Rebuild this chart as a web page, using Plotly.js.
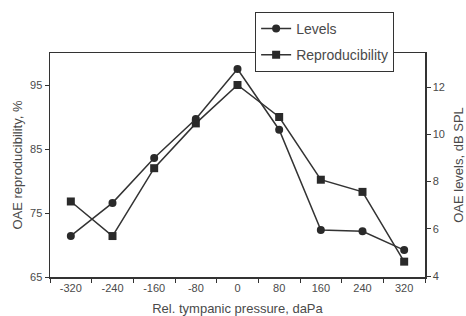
<!DOCTYPE html>
<html>
<head>
<meta charset="utf-8">
<script src="https://cdn.plot.ly/plotly-3.0.1.min.js"></script>
<style>html,body{margin:0;padding:0;background:#fff;}#chart{width:466px;height:316px;}</style>
</head>
<body>
<div id="chart"></div>
<script>
// Data
const pressure = [-320, -240, -160, -80, 0, 80, 160, 240, 320];
const levelsDb = [5.7, 7.1, 9.0, 10.65, 12.77, 10.2, 5.95, 5.9, 5.1];
const reproducibilityPct = [76.8, 71.4, 82.0, 89.0, 95.0, 90.0, 80.2, 78.3, 67.4];
const xTickVals = [-320, -240, -160, -80, 0, 80, 160, 240, 320];
const xTickText = ["-320", "-240", "-160", "-80", "0", "80", "160", "240", "320"];
const leftTickVals = [65, 75, 85, 95];
const rightTickVals = [4, 6, 8, 10, 12];

const ink = '#333';
const txt = '#4a4a4a';
const fam = 'Liberation Sans, Arial, sans-serif';
const font = {family: fam, size: 11, color: txt};

const traces = [
  {
    x: pressure, y: levelsDb, name: 'Levels', yaxis: 'y2', legendgroup: 'a',
    mode: 'lines+markers', type: 'scatter',
    line: {color: ink, width: 1.5},
    marker: {symbol: 'circle', size: 8, color: '#2a2a2a'}
  },
  {
    x: pressure, y: reproducibilityPct, name: 'Reproducibility', yaxis: 'y', legendgroup: 'b',
    mode: 'lines+markers', type: 'scatter',
    line: {color: ink, width: 1.5},
    marker: {symbol: 'square', size: 8, color: '#2a2a2a'}
  }
];

const layout = {
  width: 466, height: 316,
  margin: {l: 50, r: 41, t: 53, b: 39},
  paper_bgcolor: '#fff', plot_bgcolor: '#fff',
  font: font,
  showlegend: true,
  legend: {
    x: 0.547, y: 1.183, xanchor: 'left', yanchor: 'top',
    bgcolor: '#fff', bordercolor: ink, borderwidth: 1,
    font: {family: fam, size: 14, color: txt},
    tracegroupgap: 5, traceorder: 'grouped'
  },
  xaxis: {
    range: [-360, 360],
    tickvals: xTickVals, ticktext: xTickText,
    ticks: '', showgrid: false, zeroline: false,
    showline: true, linecolor: ink, linewidth: 1.5, mirror: true,
    minor: {tick0: -360, dtick: 80, ticks: 'outside', ticklen: 4, tickcolor: ink, showgrid: false},
    tickfont: font,
    title: {text: 'Rel. tympanic pressure, daPa', font: {family: fam, size: 13, color: txt}, standoff: 12}
  },
  yaxis: {
    range: [65, 100],
    tickvals: leftTickVals, ticktext: leftTickVals.map(String),
    ticks: 'outside', ticklen: 4, tickcolor: ink,
    showgrid: false, zeroline: false,
    showline: true, linecolor: ink, linewidth: 1.5,
    tickfont: font,
    title: {text: 'OAE reproducibility, %', font: {family: fam, size: 13, color: txt}, standoff: 4}
  },
  yaxis2: {
    overlaying: 'y', side: 'right',
    range: [3.96, 13.45],
    tickvals: rightTickVals, ticktext: rightTickVals.map(String),
    ticks: 'outside', ticklen: 4, tickcolor: ink,
    showgrid: false, zeroline: false,
    showline: true, linecolor: ink, linewidth: 1.5,
    tickfont: font,
    title: {text: 'OAE levels, dB SPL', font: {family: fam, size: 13, color: txt}, standoff: 12}
  }
};

Plotly.newPlot('chart', traces, layout, {displayModeBar: false, staticPlot: true});
</script>
</body>
</html>
